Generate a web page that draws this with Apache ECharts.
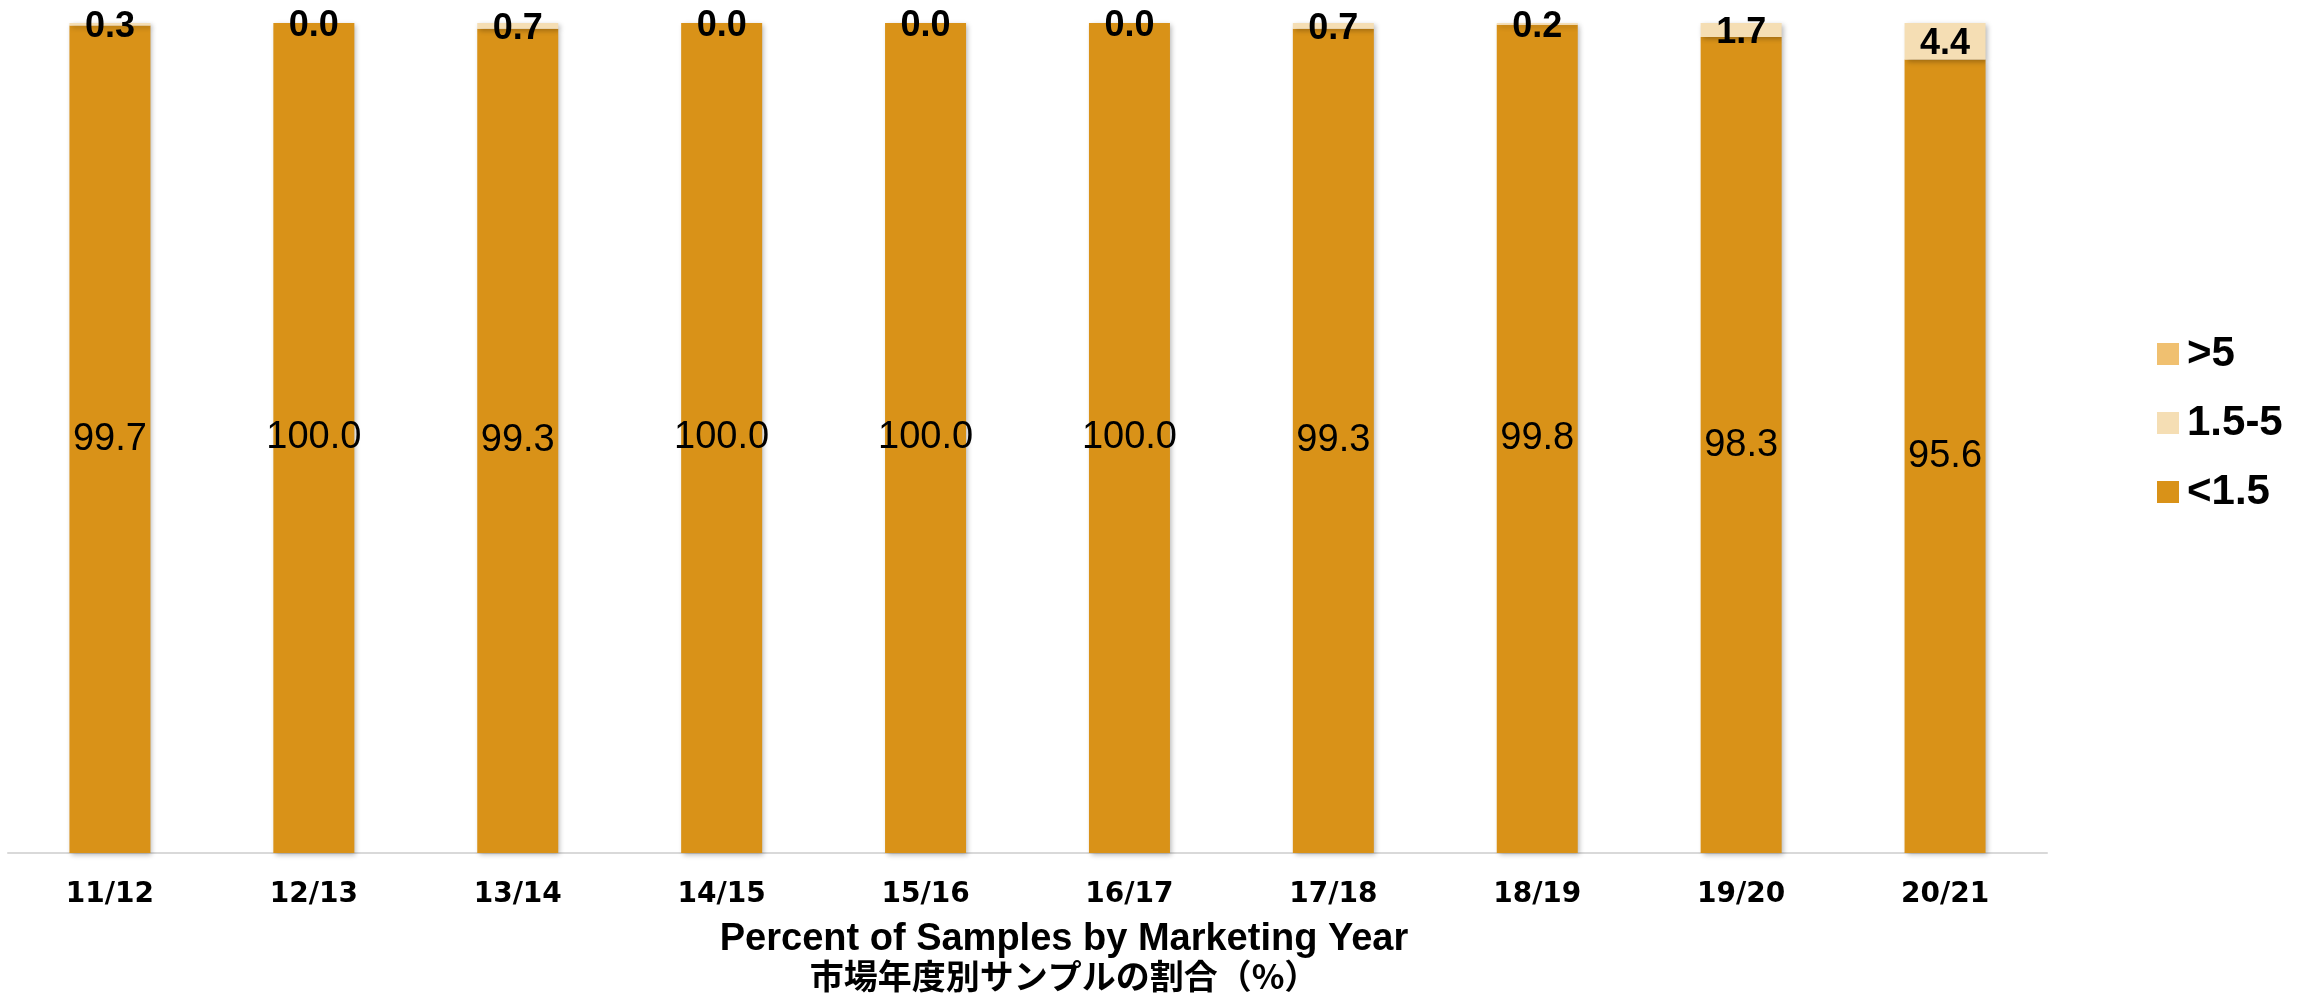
<!DOCTYPE html>
<html>
<head>
<meta charset="utf-8">
<title>Percent of Samples by Marketing Year</title>
<script src="https://cdn.jsdelivr.net/npm/echarts@6/dist/echarts.min.js"></script>
<style>
  html, body { margin: 0; padding: 0; background: #ffffff; }
  #chart { width: 2311px; height: 1000px; }
</style>
</head>
<body>
<div id="chart"></div>
<script>
// Marketing years on the category axis
const years = ['11/12', '12/13', '13/14', '14/15', '15/16', '16/17', '17/18', '18/19', '19/20', '20/21'];

// Share of samples (%) in each class, per marketing year
const below15 = [99.7, 100.0, 99.3, 100.0, 100.0, 100.0, 99.3, 99.8, 98.3, 95.6];
const from15to5 = [0.3, 0.0, 0.7, 0.0, 0.0, 0.0, 0.7, 0.2, 1.7, 4.4];
const above5 = [0, 0, 0, 0, 0, 0, 0, 0, 0, 0];

// Legend entries, top to bottom
const legendOrder = ['>5', '1.5-5', '<1.5'];

const colors = {
  '<1.5': '#D99218',
  '1.5-5': '#F5DEB4',
  '>5': '#F0C070'
};

const barShadow = {
  shadowColor: 'rgba(0,0,0,0.28)',
  shadowBlur: 5,
  shadowOffsetX: 2,
  shadowOffsetY: 2
};

const chart = echarts.init(document.getElementById('chart'), null, { renderer: 'canvas' });

chart.setOption({
  animation: false,
  backgroundColor: '#ffffff',
  grid: { left: 8, right: 264, top: 23, bottom: 147, containLabel: false },
  legend: {
    data: legendOrder,
    orient: 'vertical',
    left: 2152,
    top: 328,
    padding: 5,
    icon: 'rect',
    itemWidth: 22,
    itemHeight: 22,
    itemGap: 27,
    textStyle: {
      fontFamily: '"Liberation Sans", Arial, sans-serif',
      fontWeight: 'bold',
      fontSize: 42,
      color: '#000000',
      padding: [0, 0, 0, 3]
    }
  },
  xAxis: {
    type: 'category',
    data: years,
    axisLine: { show: true, lineStyle: { color: '#d9d9d9', width: 2 } },
    axisTick: { show: false },
    axisLabel: {
      margin: 28,
      fontFamily: '"DejaVu Sans", sans-serif',
      fontWeight: 'bold',
      fontSize: 28,
      color: '#000000'
    }
  },
  yAxis: {
    type: 'value',
    min: 0,
    max: 100,
    show: false,
    splitLine: { show: false }
  },
  series: [
    {
      name: '<1.5',
      type: 'bar',
      stack: 'share',
      barWidth: 81,
      data: below15,
      itemStyle: Object.assign({ color: colors['<1.5'] }, barShadow),
      label: {
        show: true,
        position: 'inside',
        formatter: p => p.value.toFixed(1),
        fontFamily: '"Liberation Sans", Arial, sans-serif',
        fontSize: 38,
        color: '#000000'
      }
    },
    {
      name: '1.5-5',
      type: 'bar',
      stack: 'share',
      barWidth: 81,
      data: from15to5,
      itemStyle: Object.assign({ color: colors['1.5-5'] }, barShadow),
      label: {
        show: true,
        position: 'inside',
        offset: [0, 3],
        formatter: p => p.value.toFixed(1),
        fontFamily: '"Liberation Sans", Arial, sans-serif',
        fontWeight: 'bold',
        fontSize: 36,
        color: '#000000'
      }
    },
    {
      name: '>5',
      type: 'bar',
      stack: 'share',
      barWidth: 81,
      data: above5,
      itemStyle: { color: colors['>5'] },
      label: { show: false }
    }
  ],
  graphic: [
    {
      type: 'text',
      style: {
        x: 1064,
        y: 940,
        text: 'Percent of Samples by Marketing Year',
        fontFamily: '"Liberation Sans", Arial, sans-serif',
        fontWeight: 'bold',
        fontSize: 38,
        fill: '#000000',
        align: 'center',
        verticalAlign: 'middle'
      }
    },
    {
      type: 'text',
      style: {
        x: 1064,
        y: 976,
        text: '市場年度別サンプルの割合（%）',
        fontFamily: '"Noto Sans CJK JP", sans-serif',
        fontWeight: 'bold',
        fontSize: 34,
        fill: '#000000',
        align: 'center',
        verticalAlign: 'middle'
      }
    }
  ]
});
</script>
</body>
</html>
